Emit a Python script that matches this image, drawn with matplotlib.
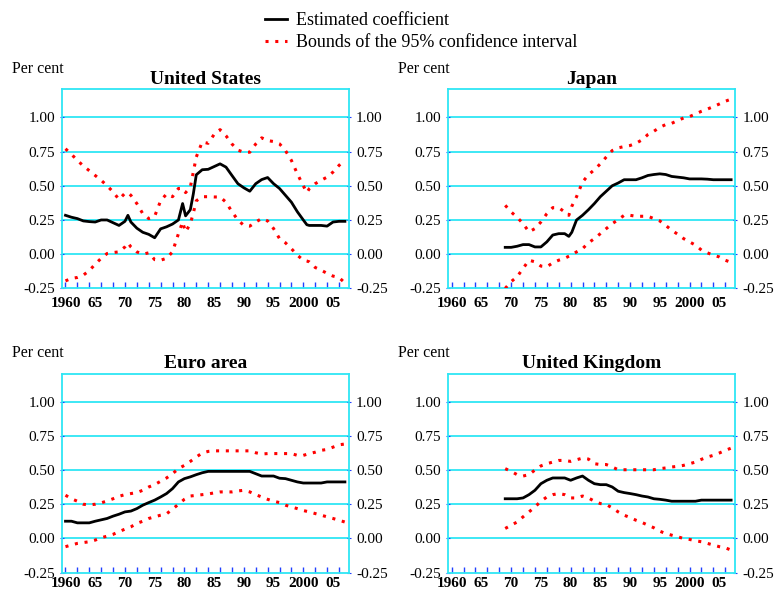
import matplotlib
matplotlib.use("Agg")
import matplotlib.pyplot as plt
from matplotlib.lines import Line2D
from matplotlib.ticker import MultipleLocator, FixedLocator

plt.rcParams['font.family'] = ['Liberation Serif', 'DejaVu Serif']

# United States
us_years = [1960, 1961, 1962, 1963, 1964, 1965, 1966, 1967, 1968, 1969,
            1970, 1970.5, 1971, 1972, 1973, 1974, 1975, 1976, 1977, 1978,
            1979, 1979.7, 1980.2, 1981, 1981.5, 1982, 1983, 1984, 1985, 1986,
            1987, 1988, 1989, 1990, 1991, 1992, 1993, 1994, 1995, 1996,
            1997, 1998, 1999, 2000, 2000.6, 2001, 2002, 2003, 2004, 2005,
            2006, 2007]
us_coef = [0.284, 0.27, 0.26, 0.243, 0.238, 0.235, 0.25, 0.25, 0.23, 0.21,
           0.24, 0.284, 0.235, 0.19, 0.16, 0.145, 0.12, 0.185, 0.2, 0.22,
           0.25, 0.37, 0.28, 0.325, 0.44, 0.58, 0.617, 0.62, 0.64, 0.66,
           0.636, 0.575, 0.515, 0.485, 0.46, 0.515, 0.545, 0.56, 0.515, 0.48,
           0.43, 0.38, 0.31, 0.25, 0.215, 0.21, 0.21, 0.21, 0.205, 0.235,
           0.24, 0.24]
us_upper = [0.77, 0.73, 0.685, 0.645, 0.61, 0.575, 0.54, 0.5, 0.455, 0.40,
            0.445, 0.45, 0.43, 0.37, 0.296, 0.26, 0.277, 0.39, 0.44, 0.42,
            0.48, 0.48, 0.45, 0.49, 0.6, 0.71, 0.82, 0.81, 0.875, 0.91,
            0.865, 0.805, 0.76, 0.745, 0.745, 0.805, 0.85, 0.83, 0.823, 0.806,
            0.757, 0.685, 0.587, 0.5, 0.45, 0.478, 0.515, 0.54, 0.563, 0.6,
            0.648, 0.69]
us_lower = [-0.195, -0.177, -0.17, -0.153, -0.12, -0.073, -0.03, 0.005, 0.012, 0.017,
            0.053, 0.083, 0.053, 0.017, 0.0, 0.01, -0.04, -0.044, -0.03, 0.017,
            0.15, 0.235, 0.163, 0.223, 0.3, 0.39, 0.42, 0.42, 0.418, 0.418,
            0.38, 0.31, 0.25, 0.21, 0.205, 0.235, 0.26, 0.243, 0.187, 0.114,
            0.083, 0.04, -0.007, -0.044, -0.05, -0.056, -0.097, -0.117, -0.14, -0.16,
            -0.17, -0.21]

# Japan
jp_years = [1969, 1970, 1971, 1972, 1973, 1974, 1975, 1976, 1977, 1978,
            1979, 1979.7, 1980.2, 1981, 1982, 1983, 1984, 1985, 1986, 1987,
            1988, 1989, 1990, 1991, 1992, 1993, 1994, 1995, 1996, 1997,
            1998, 1999, 2000, 2001, 2002, 2003, 2004, 2005, 2006, 2007]
jp_coef = [0.05, 0.05, 0.058, 0.07, 0.07, 0.053, 0.053, 0.09, 0.14, 0.15,
           0.15, 0.13, 0.16, 0.25, 0.284, 0.325, 0.37, 0.42, 0.46, 0.50,
           0.52, 0.544, 0.544, 0.544, 0.558, 0.575, 0.582, 0.587, 0.582, 0.568,
           0.563, 0.558, 0.55, 0.55, 0.55, 0.548, 0.544, 0.544, 0.544, 0.544]
jp_upper = [0.357, 0.308, 0.27, 0.223, 0.163, 0.187, 0.235, 0.296, 0.34, 0.34,
            0.308, 0.284, 0.35, 0.42, 0.527, 0.58, 0.617, 0.66, 0.71, 0.757,
            0.777, 0.786, 0.794, 0.81, 0.835, 0.874, 0.898, 0.927, 0.947, 0.956,
            0.976, 0.995, 1.005, 1.024, 1.044, 1.06, 1.078, 1.097, 1.117, 1.133]
jp_lower = [-0.25, -0.2, -0.165, -0.104, -0.044, -0.056, -0.087, -0.092, -0.063, -0.044,
            -0.03, -0.015, -0.005, 0.017, 0.04, 0.083, 0.114, 0.15, 0.187, 0.223,
            0.252, 0.284, 0.284, 0.277, 0.277, 0.277, 0.26, 0.243, 0.21, 0.175,
            0.146, 0.114, 0.09, 0.066, 0.03, 0.01, -0.007, -0.02, -0.044, -0.06]

# Euro area
ea_years = list(range(1960, 2008))
ea_coef = [0.126, 0.126, 0.114, 0.114, 0.114, 0.126, 0.136, 0.146, 0.163, 0.177,
           0.194, 0.2, 0.218, 0.243, 0.262, 0.28, 0.303, 0.328, 0.364, 0.413,
           0.437, 0.45, 0.466, 0.48, 0.49, 0.49, 0.49, 0.49, 0.49, 0.49,
           0.49, 0.49, 0.473, 0.456, 0.456, 0.456, 0.44, 0.437, 0.425, 0.413,
           0.405, 0.405, 0.405, 0.405, 0.413, 0.413, 0.413, 0.413]
ea_upper = [0.316, 0.29, 0.272, 0.25, 0.245, 0.25, 0.26, 0.274, 0.29, 0.308,
            0.32, 0.328, 0.335, 0.352, 0.376, 0.393, 0.418, 0.442, 0.473, 0.51,
            0.534, 0.563, 0.595, 0.624, 0.636, 0.64, 0.64, 0.64, 0.64, 0.64,
            0.64, 0.64, 0.626, 0.617, 0.62, 0.62, 0.62, 0.62, 0.62, 0.607,
            0.607, 0.62, 0.63, 0.644, 0.65, 0.667, 0.684, 0.69]
ea_lower = [-0.06, -0.048, -0.036, -0.03, -0.024, -0.012, 0.005, 0.017, 0.03, 0.05,
            0.068, 0.085, 0.11, 0.126, 0.146, 0.158, 0.17, 0.18, 0.214, 0.25,
            0.286, 0.31, 0.315, 0.32, 0.325, 0.333, 0.34, 0.34, 0.34, 0.347,
            0.352, 0.34, 0.32, 0.303, 0.286, 0.272, 0.262, 0.243, 0.23, 0.218,
            0.204, 0.194, 0.182, 0.17, 0.158, 0.146, 0.133, 0.12]

# United Kingdom
uk_years = list(range(1969, 2008))
uk_coef = [0.29, 0.29, 0.29, 0.296, 0.32, 0.352, 0.4, 0.425, 0.442, 0.442,
           0.442, 0.425, 0.442, 0.456, 0.425, 0.4, 0.393, 0.393, 0.376, 0.345,
           0.335, 0.328, 0.32, 0.31, 0.303, 0.29, 0.286, 0.28, 0.272, 0.272,
           0.272, 0.272, 0.272, 0.28, 0.28, 0.28, 0.28, 0.28, 0.28]
uk_upper = [0.51, 0.49, 0.466, 0.456, 0.466, 0.5, 0.53, 0.546, 0.558, 0.57,
            0.57, 0.563, 0.575, 0.587, 0.58, 0.546, 0.54, 0.54, 0.522, 0.502,
            0.502, 0.502, 0.502, 0.502, 0.502, 0.502, 0.51, 0.515, 0.522, 0.527,
            0.534, 0.546, 0.558, 0.578, 0.595, 0.607, 0.624, 0.643, 0.66]
uk_lower = [0.073, 0.097, 0.12, 0.158, 0.194, 0.23, 0.272, 0.303, 0.32, 0.328,
            0.32, 0.296, 0.296, 0.31, 0.296, 0.272, 0.255, 0.248, 0.223, 0.194,
            0.17, 0.153, 0.133, 0.117, 0.097, 0.078, 0.053, 0.036, 0.024, 0.012,
            0.0, -0.007, -0.017, -0.024, -0.036, -0.048, -0.06, -0.068, -0.085]

panels = [
    ("United States", us_years, us_coef, us_upper, us_lower),
    ("Japan", jp_years, jp_coef, jp_upper, jp_lower),
    ("Euro area", ea_years, ea_coef, ea_upper, ea_lower),
    ("United Kingdom", uk_years, uk_coef, uk_upper, uk_lower),
]

year_labels = ["1960", "65", "70", "75", "80", "85", "90", "95", "2000", "05"]
y_ticks = [-0.25, 0.0, 0.25, 0.5, 0.75, 1.0]

cyan = '#2ee6f5'
dots = (0, (1.0, 2.2))

fig = plt.figure(figsize=(7.74, 5.91), dpi=100)
positions = [
    [0.080, 0.512, 0.371, 0.337],
    [0.579, 0.512, 0.371, 0.337],
    [0.080, 0.031, 0.371, 0.337],
    [0.579, 0.031, 0.371, 0.337],
]
label_pads = [6, 6, 3, 3]

for pos, pad, (title, years, coef, upper, lower) in zip(positions, label_pads, panels):
    ax = fig.add_axes(pos)
    ax.plot(years, coef, color='black', lw=2.0, zorder=4)
    ax.plot(years, upper, color='red', lw=2.2, ls=dots, zorder=3)
    ax.plot(years, lower, color='red', lw=2.2, ls=dots, zorder=3)

    ax.set_xlim(1959.4, 2007.7)
    ax.set_ylim(-0.25, 1.205)
    for yv in [0.0, 0.25, 0.5, 0.75, 1.0]:
        ax.axhline(yv, color=cyan, lw=1.3, zorder=1)
    for s in ax.spines.values():
        s.set_color(cyan)
        s.set_linewidth(1.3)

    # blue tick marks every two years, year labels every five
    ax.xaxis.remove_overlapping_locs = False
    ax.xaxis.set_major_locator(MultipleLocator(2))
    ax.xaxis.set_major_formatter(plt.NullFormatter())
    ax.xaxis.set_minor_locator(FixedLocator(range(1960, 2010, 5)))
    ax.set_xticklabels(year_labels, minor=True, fontsize=11, fontweight='bold')
    ax.tick_params(axis='x', which='major', direction='in', length=4,
                   color='#2040ff', width=1)
    ax.tick_params(axis='x', which='minor', length=0, pad=pad)

    ax.set_yticks(y_ticks)
    ax.set_yticklabels(["%.2f" % v for v in y_ticks], fontsize=11)
    ax.tick_params(axis='y', direction='inout', length=3, color='#2040ff',
                   left=True, right=True, labelleft=True, labelright=True, pad=3.5)

    ax.set_title(title, fontsize=14, fontweight='bold', pad=4)
    bb = ax.get_position()
    fig.text(bb.x0 - 0.065, bb.y1 + 0.035, "Per cent", fontsize=11.5,
             ha='left', va='center')

handles = [Line2D([], [], color='black', lw=2.0),
           Line2D([], [], color='red', lw=2.2, ls=dots)]
fig.legend(handles, ["Estimated coefficient", "Bounds of the 95% confidence interval"],
           loc='upper left', bbox_to_anchor=(0.328, 0.998), frameon=False,
           fontsize=13, handlelength=1.25, handletextpad=0.5, labelspacing=0.28,
           borderaxespad=0.2)

fig.savefig("out.png", dpi=100)
